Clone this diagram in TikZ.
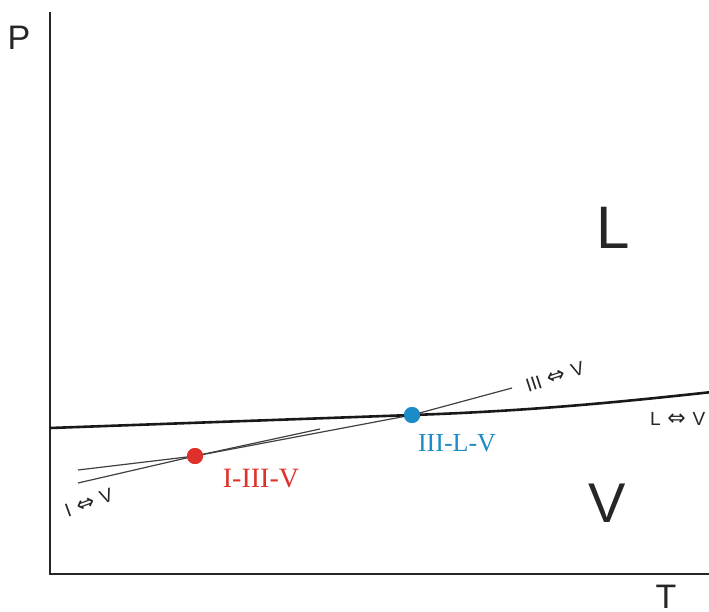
\documentclass[tikz,border=0pt]{standalone}
\usepackage{fontspec}
\setmainfont{Liberation Sans}
\newfontfamily\seriffont{Liberation Serif}
\newfontfamily\symfont{DejaVu Sans}
\definecolor{dotred}{HTML}{E0302A}
\definecolor{dotblue}{HTML}{1C8CC8}
\newcommand{\eqarr}{\hspace{0.35em}{\symfont\fontsize{22}{22}\selectfont ⇔}\hspace{0.35em}}
\begin{document}
\begin{tikzpicture}[x=1pt,y=-1pt,
  axis/.style={line width=2.6pt,black!85},
  thinline/.style={line width=1.2pt,black!75},
  phase/.style={line width=2.6pt,black!90},
  dot/.style={circle,inner sep=0pt,minimum size=16pt},
  lbl/.style={inner sep=0pt,text=black!85}]
\useasboundingbox (0,0) rectangle (709,611);
% axes
\coordinate (top) at (50,12);
\coordinate (origin) at (50,574);
\coordinate (right) at (709,574);
\draw[axis] (top) -- (origin) -- (right);
\node[lbl,font=\fontsize{34}{34}\selectfont] (P) at (19,38) {P};
\node[lbl,font=\fontsize{34}{34}\selectfont,anchor=north] (T) at (666,585) {T};
% points
\coordinate (A1) at (78,470);
\coordinate (A2) at (320,429);
\coordinate (B1) at (78,483);
\coordinate (B2) at (512,388);
\coordinate (Lstart) at (50,428);
\coordinate (Lend) at (712,392);
\node[dot,fill=dotred] (t1) at (195,456) {};
\node[dot,fill=dotblue] (t2) at (412,415) {};
% lines
\draw[thinline] (A1) -- (t1.center) -- (A2);
\draw[thinline] (B1) -- (t1.center) -- (t2.center) -- (B2);
\draw[phase] (Lstart) -- (t2.center) .. controls (530,411) and (620,402) .. (Lend);
\node[dot,fill=dotred] at (t1) {};
\node[dot,fill=dotblue] at (t2) {};
% labels
\node[lbl,font=\fontsize{60}{60}\selectfont] (Ltxt) at (613,228) {L};
\node[lbl,font=\fontsize{56}{56}\selectfont] (Vtxt) at (607,503) {V};
\node[lbl,text=dotred,font=\seriffont\fontsize{28}{28}\selectfont] (l1) at (261,479) {I-III-V};
\node[lbl,text=dotblue,font=\seriffont\fontsize{26}{26}\selectfont] (l2) at (457,443) {III-L-V};
\node[lbl,rotate=18,font=\fontsize{19}{19}\selectfont] (l3) at (555,377) {III\eqarr V};
\node[lbl,font=\fontsize{19}{19}\selectfont,anchor=west] (l4) at (650,419) {L\eqarr V};
\node[lbl,rotate=20,font=\fontsize{19}{19}\selectfont] (l5) at (89,503) {I\eqarr V};
\end{tikzpicture}
\end{document}
